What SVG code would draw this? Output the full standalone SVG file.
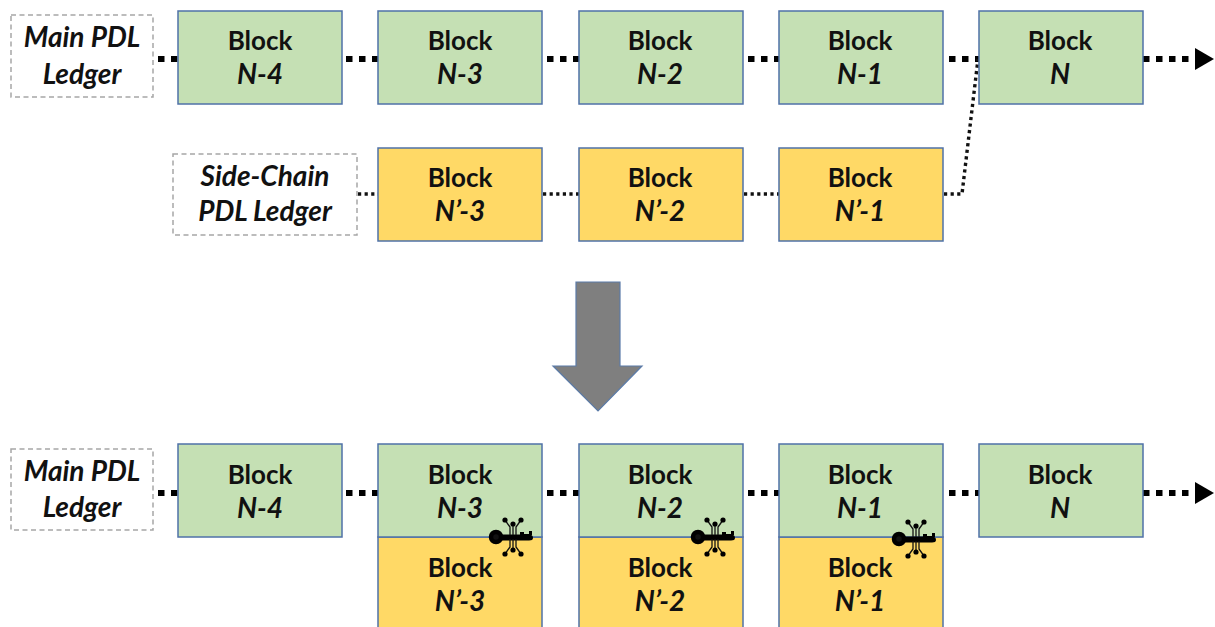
<svg xmlns="http://www.w3.org/2000/svg" width="1215" height="627" viewBox="0 0 1215 627">
<style>
.g{fill:#c5e0b4;stroke:#4f72a8;stroke-width:1.5}
.y{fill:#ffd966;stroke:#4f72a8;stroke-width:1.5}
.l{fill:#fff;stroke:#a6a6a6;stroke-width:1.5;stroke-dasharray:5 3.5}
text{font-family:Lato,"Liberation Sans",sans-serif;font-size:26px;font-weight:700;fill:#111;text-anchor:middle}
.i{font-style:italic;font-size:28px}
.t{fill:none;stroke:#000;stroke-width:6;stroke-dasharray:6.5 6.5}
.d{fill:none;stroke:#111;stroke-width:3.4;stroke-dasharray:3.2 3.4}
.w{fill:none;stroke:#111;stroke-width:1.3}
</style>
<defs>
<marker id="a" markerUnits="userSpaceOnUse" markerWidth="20" markerHeight="24" refX="0" refY="12" orient="auto"><path d="M0 1L19 12L0 23Z" fill="#000"/></marker>
<g id="key">
<circle cx="0" cy="0" r="5" fill="#111" stroke="#000" stroke-width="4.5"/>
<path d="M6 -2.5H33Q37 -2.5 37 1Q37 3.5 33 3.5H6Z" fill="#000"/><path d="M24 -2V-5H28V-3H33V-6H36V-2Z" fill="#000"/>
<path class="w" d="M9 -17L14 -10V-2M17 -13V-2M25 -17L20 -10V-2M9 17L14 10V2M17 13V2M25 17L20 10V2"/>
<g fill="#000"><circle cx="9" cy="-17" r="2.6"/><circle cx="17" cy="-13" r="2.6"/><circle cx="25" cy="-17" r="2.6"/><circle cx="9" cy="17" r="2.6"/><circle cx="17" cy="13" r="2.6"/><circle cx="25" cy="17" r="2.6"/></g>
</g>
</defs>
<g id="connectors">
<path class="t" d="M158 59H178M346 59H378M547 59H579M748 59H779M949 59H979"/>
<path class="t" d="M1143 59H1195" marker-end="url(#a)"/>
<path class="d" d="M358 194H378M543 194H579M744 194H779M944 194H962L978 59"/>
<path class="t" d="M158 493H178M346 493H378M547 493H579M748 493H779M949 493H979"/>
<path class="t" d="M1143 493H1195" marker-end="url(#a)"/>
</g>
<g id="main-label-1"><rect class="l" x="11" y="15" width="142" height="82"/><text class="i" x="82" y="47">Main PDL</text><text class="i" x="82" y="84">Ledger</text></g>
<g id="block-n4"><rect class="g" x="178" y="11" width="164" height="93"/><text x="260" y="50">Block</text><text class="i" x="260" y="84">N-4</text></g>
<g id="block-n3"><rect class="g" x="378" y="11" width="164" height="93"/><text x="460" y="50">Block</text><text class="i" x="460" y="84">N-3</text></g>
<g id="block-n2"><rect class="g" x="579" y="11" width="164" height="93"/><text x="660" y="50">Block</text><text class="i" x="660" y="84">N-2</text></g>
<g id="block-n1"><rect class="g" x="779" y="11" width="164" height="93"/><text x="860" y="50">Block</text><text class="i" x="860" y="84">N-1</text></g>
<g id="block-n"><rect class="g" x="979" y="11" width="164" height="93"/><text x="1060" y="50">Block</text><text class="i" x="1060" y="84">N</text></g>
<g id="side-label"><rect class="l" x="173" y="154" width="184" height="81"/><text class="i" x="265" y="186">Side-Chain</text><text class="i" x="265" y="221">PDL Ledger</text></g>
<g id="side-n3"><rect class="y" x="378" y="148" width="164" height="93"/><text x="460" y="187">Block</text><text class="i" x="460" y="221">N’-3</text></g>
<g id="side-n2"><rect class="y" x="579" y="148" width="164" height="93"/><text x="660" y="187">Block</text><text class="i" x="660" y="221">N’-2</text></g>
<g id="side-n1"><rect class="y" x="779" y="148" width="164" height="93"/><text x="860" y="187">Block</text><text class="i" x="860" y="221">N’-1</text></g>
<g id="big-arrow"><path d="M576 282H620V366H642L598 411L553 366H576Z" fill="#7f7f7f" stroke="#5b7ba8" stroke-width="1.2"/></g>
<g id="main-label-2"><rect class="l" x="11" y="449" width="142" height="81"/><text class="i" x="82" y="481">Main PDL</text><text class="i" x="82" y="517">Ledger</text></g>
<g id="merged-n4"><rect class="g" x="178" y="444" width="164" height="93"/><text x="260" y="484">Block</text><text class="i" x="260" y="518">N-4</text></g>
<g id="merged-y3"><rect class="y" x="378" y="537" width="164" height="93"/><text x="460" y="577">Block</text><text class="i" x="460" y="611">N’-3</text></g>
<g id="merged-n3"><rect class="g" x="378" y="444" width="164" height="93"/><text x="460" y="484">Block</text><text class="i" x="460" y="518">N-3</text></g>
<g id="merged-y2"><rect class="y" x="579" y="537" width="164" height="93"/><text x="660" y="577">Block</text><text class="i" x="660" y="611">N’-2</text></g>
<g id="merged-n2"><rect class="g" x="579" y="444" width="164" height="93"/><text x="660" y="484">Block</text><text class="i" x="660" y="518">N-2</text></g>
<g id="merged-y1"><rect class="y" x="779" y="537" width="164" height="93"/><text x="860" y="577">Block</text><text class="i" x="860" y="611">N’-1</text></g>
<g id="merged-n1"><rect class="g" x="779" y="444" width="164" height="93"/><text x="860" y="484">Block</text><text class="i" x="860" y="518">N-1</text></g>
<g id="merged-n"><rect class="g" x="979" y="444" width="164" height="93"/><text x="1060" y="484">Block</text><text class="i" x="1060" y="518">N</text></g>
<use id="key-1" href="#key" x="496" y="537"/>
<use id="key-2" href="#key" x="698" y="537"/>
<use id="key-3" href="#key" x="899" y="539"/>
</svg>
